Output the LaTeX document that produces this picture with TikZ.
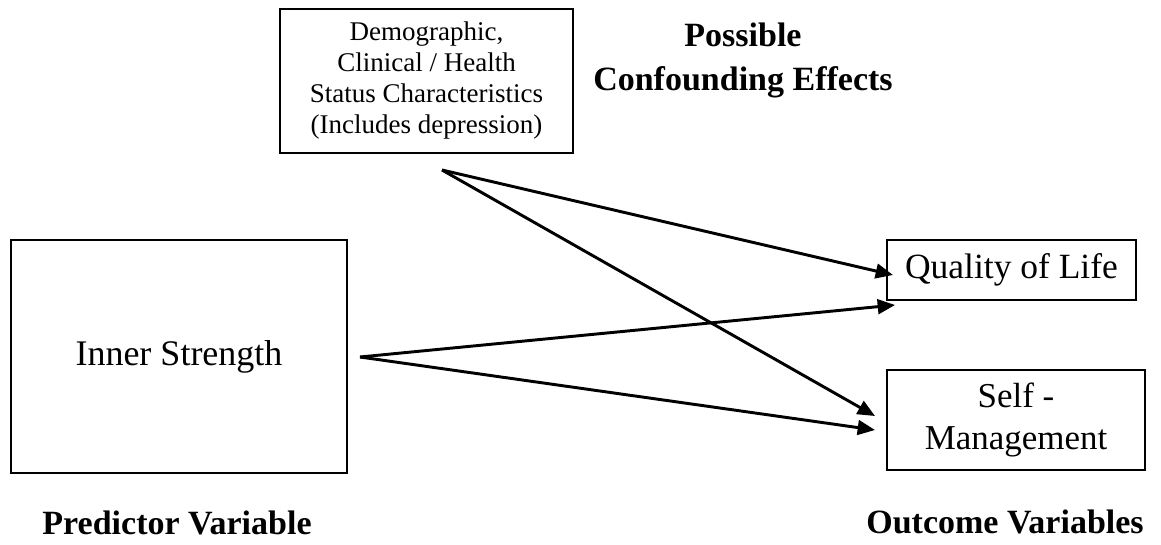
\documentclass[tikz,border=0pt]{standalone}
\usepackage{fontspec}
\setmainfont{Liberation Serif}
\usetikzlibrary{arrows.meta}

\begin{document}
\begin{tikzpicture}[x=0.75pt,y=-0.75pt,
    box/.style={draw,line width=2pt,inner sep=0pt,align=center},
    heading/.style={font=\bfseries\fontsize{25.5}{33}\selectfont,align=center},
    link/.style={line width=2.2pt,-{Triangle[length=13pt,width=11pt]}}]
      \useasboundingbox (0,0) rectangle (1161,545);

      \node[box,minimum width=219.75pt,minimum height=108pt,
            font=\fontsize{20.25}{23.25}\selectfont] (demo) at (426.5,81)
            {Demographic,\\Clinical / Health\\Status Characteristics\\(Includes depression)};
      \node[box,minimum width=252pt,minimum height=174.75pt,
            font=\fontsize{27}{32}\selectfont] (inner) at (179,356.5) {Inner Strength};
      \node[box,minimum width=186.75pt,minimum height=45pt,
            font=\fontsize{26.6}{32}\selectfont] (qol) at (1011.5,270) {Quality of Life};
      \node[box,minimum width=193.5pt,minimum height=75pt,
            font=\fontsize{26.2}{32}\selectfont] (selfm) at (1016,420) {Self -\\Management};

      \node[heading] (conf) at (743,60) {Possible\\Confounding Effects};
      \node[heading] (pred) at (177,523) {Predictor Variable};
      \node[heading] (outc) at (1005,522) {Outcome Variables};

      \coordinate (demoout) at (442,170);
      \coordinate (innerout) at (360,357);
      \coordinate (qolin1) at (893,275);
      \coordinate (qolin2) at (895,305);
      \coordinate (selfin1) at (875,416);
      \coordinate (selfin2) at (875,430);

      \draw[link] (demoout) -- (qolin1);
      \draw[link] (demoout) -- (selfin1);
      \draw[link] (innerout) -- (qolin2);
      \draw[link] (innerout) -- (selfin2);
    \end{tikzpicture}
\end{document}
